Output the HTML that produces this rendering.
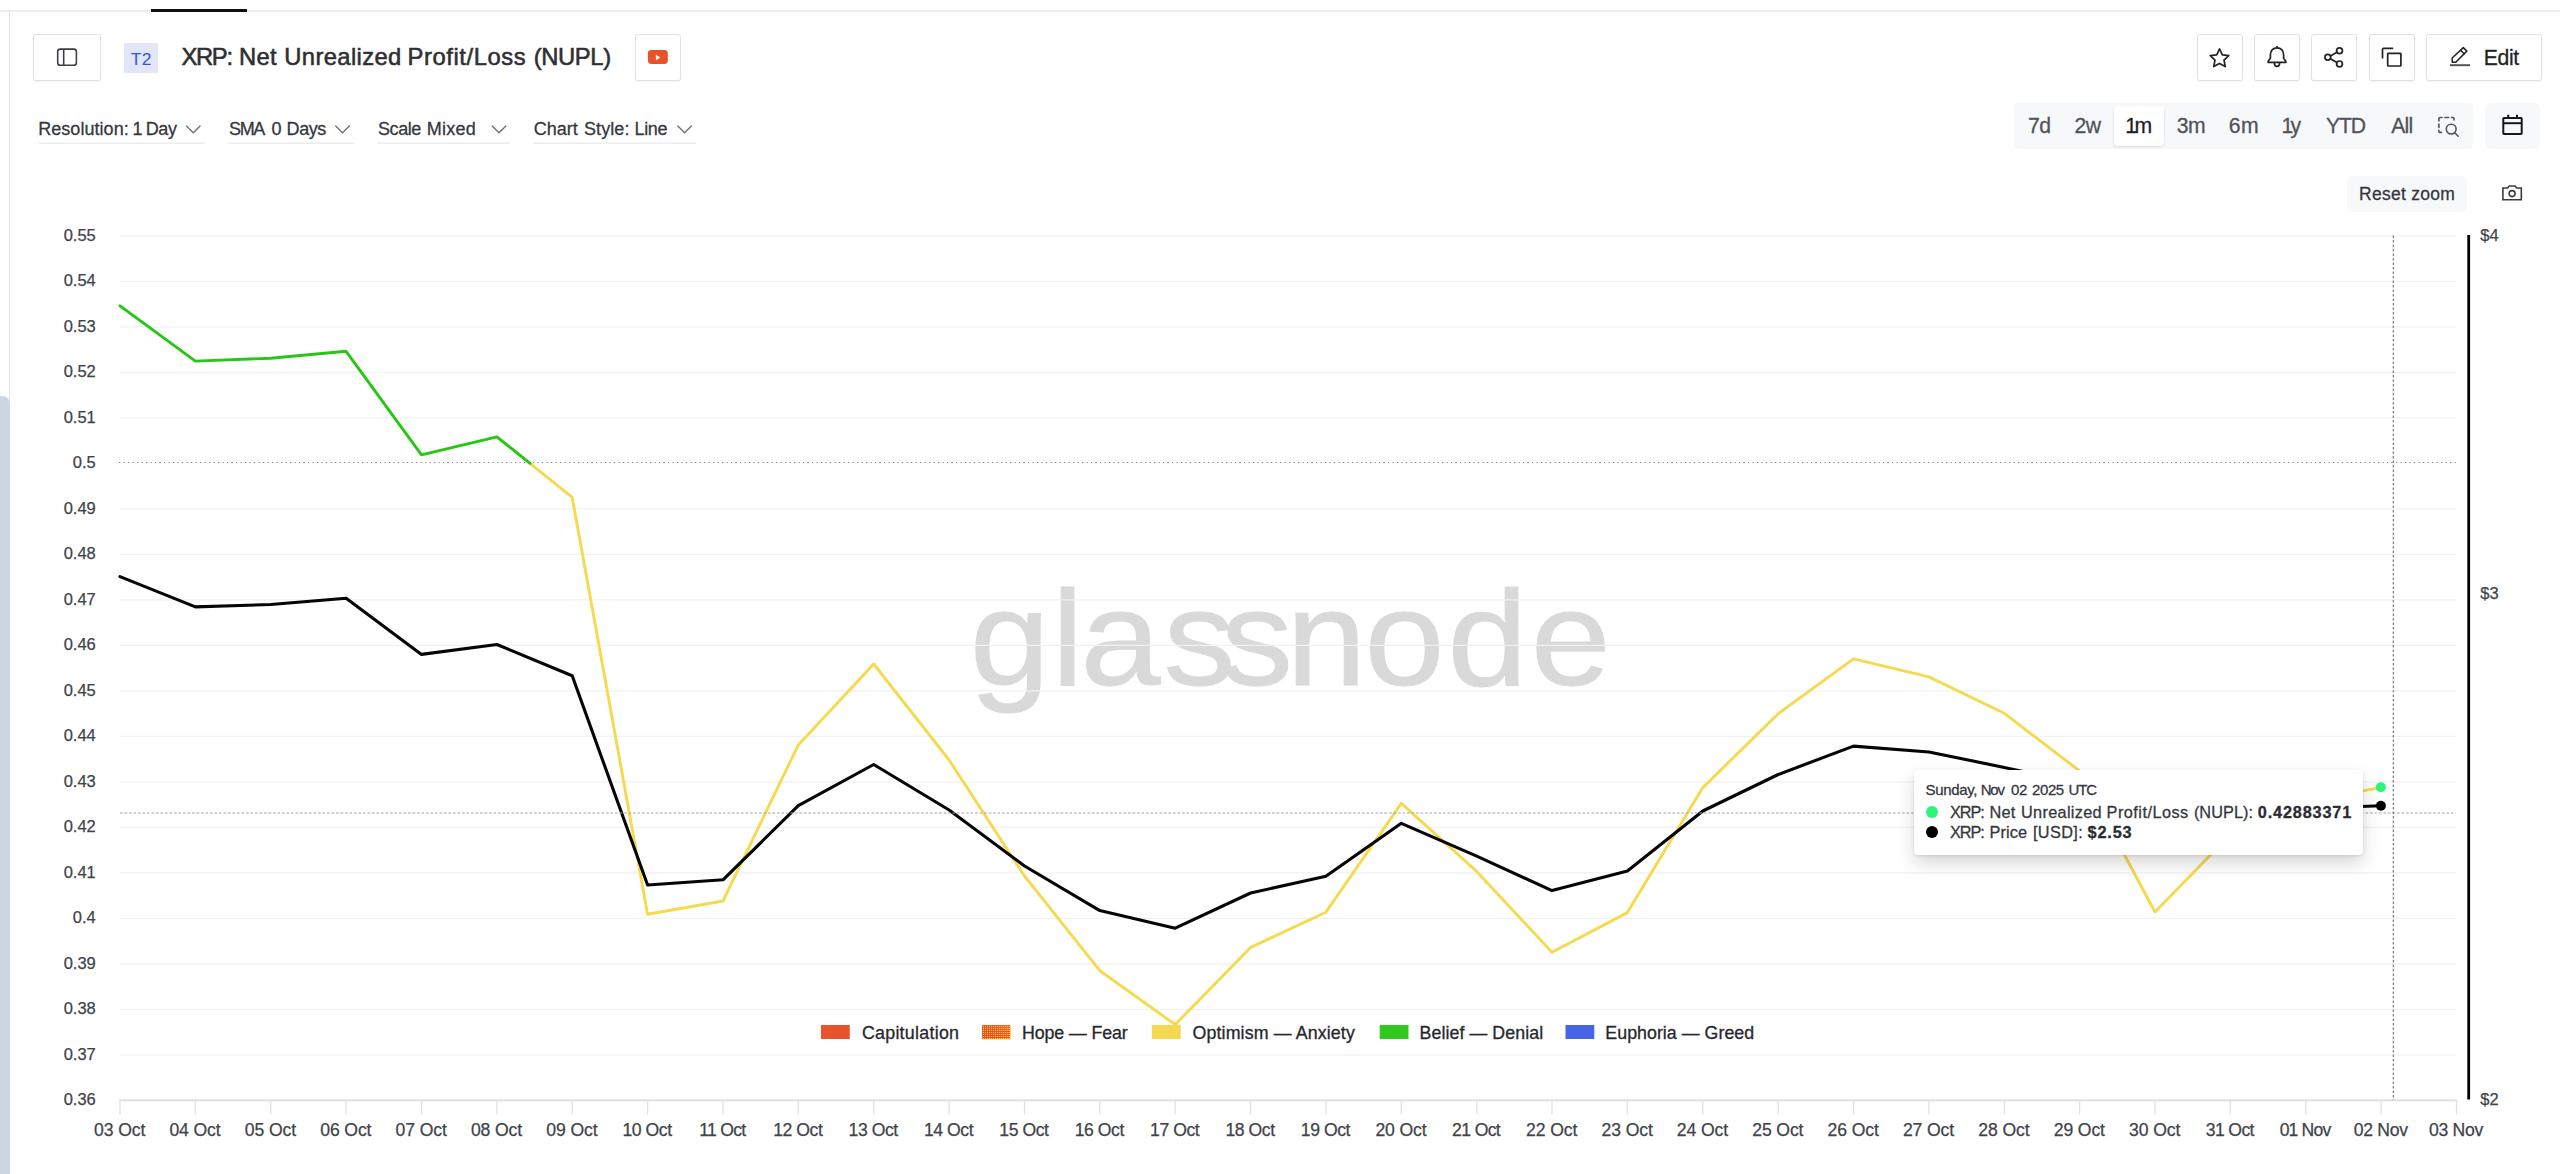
<!DOCTYPE html>
<html lang="en"><head><meta charset="utf-8"><title>XRP: Net Unrealized Profit/Loss (NUPL)</title>
<style>
html,body{margin:0;padding:0;background:#fff}
body{width:2560px;height:1174px;overflow:hidden;position:relative;font-family:"Liberation Sans", sans-serif;-webkit-font-smoothing:antialiased}
.abs{position:absolute}
.t{position:absolute;white-space:nowrap;line-height:1}
.w{position:absolute;top:0}
.btn{position:absolute;box-sizing:border-box;border:1.4px solid #e1e2e3;border-radius:2.8px;background:#fff;box-shadow:0 1px 1.5px rgba(0,0,0,.05)}
.ul{position:absolute;height:0;border-top:1.4px solid #ebebeb;top:142.4px}
.ov{position:absolute;left:0;top:0}
#chart{position:absolute;left:0;top:0}
.seg{position:absolute;background:#f7f8f9}
#tip{position:absolute;left:1913.6px;top:770.2px;width:449.6px;height:85.3px;background:#fff;border-radius:4px;box-shadow:0 1px 3px rgba(0,0,0,.10),0 8px 18px rgba(0,0,0,.16)}
#tipt{position:absolute;left:0;top:0}
.dot{position:absolute;width:12.4px;height:12.4px;border-radius:50%}
</style></head><body>
<div class="abs" style="left:0;top:10px;width:2560px;height:2px;background:#ebecec"></div>
<div class="abs" style="left:151px;top:8.8px;width:96px;height:3px;background:#111"></div>
<div class="abs" style="left:9px;top:11px;width:1.3px;height:390px;background:#e4e5e6"></div>
<div class="abs" style="left:0;top:395.6px;width:9.6px;height:800px;background:#ccd6e0;border-top-right-radius:8px"></div>

<div class="btn" style="left:33.3px;top:34.2px;width:67.6px;height:46.5px"></div>
<div class="abs" style="left:124px;top:43px;width:33.8px;height:30.4px;background:#e1e6fb"></div>
<div class="btn" style="left:634.5px;top:34.2px;width:46.1px;height:46.5px"></div>
<div class="btn" style="left:2196.6px;top:34.2px;width:46.1px;height:46.5px"></div>
<div class="btn" style="left:2254.2px;top:34.2px;width:45.5px;height:46.5px"></div>
<div class="btn" style="left:2311.1px;top:34.2px;width:45.6px;height:46.5px"></div>
<div class="btn" style="left:2369.1px;top:34.2px;width:45.5px;height:46.5px"></div>
<div class="btn" style="left:2426.3px;top:34.2px;width:115.5px;height:46.5px"></div>


<div class="seg" style="left:2014.1px;top:103.1px;width:459.2px;height:45.7px;border-radius:4.5px"></div>
<div class="seg" style="left:2485.2px;top:103.1px;width:54.6px;height:45.7px;border-radius:6px"></div>
<div class="abs" style="left:2114.3px;top:106px;width:49.7px;height:40px;background:#fff;border-radius:4px;box-shadow:0 1px 3px rgba(0,0,0,.12)"></div>
<div class="seg" style="left:2347.4px;top:176.1px;width:119.4px;height:35.7px;border-radius:6px"></div>

<svg id="chart" width="2560" height="1174" viewBox="0 0 2560 1174" font-family='"Liberation Sans", sans-serif'><defs><pattern id="dots" x="982.1" y="1025" width="2.03" height="2.03" patternUnits="userSpaceOnUse"><rect width="2.03" height="2.03" fill="#eb4b24"/><circle cx="1.4" cy="1.4" r="0.7" fill="#fbe650"/></pattern></defs><text transform="scale(1.07,1)" x="906.4 982.7 1009.9 1087.4 1141.2 1202.1 1275.3 1352.7 1430.7" y="684.8" font-size="134.5" fill="#d9d9d9" stroke="#d9d9d9" stroke-width="0.9">glassnode</text><line x1="120.0" x2="2456.5" y1="235.9" y2="235.9" stroke="#f1f1f1" stroke-width="1.25"/><line x1="120.0" x2="2456.5" y1="281.4" y2="281.4" stroke="#f1f1f1" stroke-width="1.25"/><line x1="120.0" x2="2456.5" y1="326.9" y2="326.9" stroke="#f1f1f1" stroke-width="1.25"/><line x1="120.0" x2="2456.5" y1="372.4" y2="372.4" stroke="#f1f1f1" stroke-width="1.25"/><line x1="120.0" x2="2456.5" y1="417.9" y2="417.9" stroke="#f1f1f1" stroke-width="1.25"/><line x1="119" x2="2456.5" y1="462.5" y2="462.5" stroke="#7d818c" stroke-width="1" stroke-dasharray="1.2 3.3"/><line x1="120.0" x2="2456.5" y1="508.9" y2="508.9" stroke="#f1f1f1" stroke-width="1.25"/><line x1="120.0" x2="2456.5" y1="554.4" y2="554.4" stroke="#f1f1f1" stroke-width="1.25"/><line x1="120.0" x2="2456.5" y1="599.9" y2="599.9" stroke="#f1f1f1" stroke-width="1.25"/><line x1="120.0" x2="2456.5" y1="645.4" y2="645.4" stroke="#f1f1f1" stroke-width="1.25"/><line x1="120.0" x2="2456.5" y1="690.9" y2="690.9" stroke="#f1f1f1" stroke-width="1.25"/><line x1="120.0" x2="2456.5" y1="736.4" y2="736.4" stroke="#f1f1f1" stroke-width="1.25"/><line x1="120.0" x2="2456.5" y1="781.9" y2="781.9" stroke="#f1f1f1" stroke-width="1.25"/><line x1="120.0" x2="2456.5" y1="827.4" y2="827.4" stroke="#f1f1f1" stroke-width="1.25"/><line x1="120.0" x2="2456.5" y1="872.9" y2="872.9" stroke="#f1f1f1" stroke-width="1.25"/><line x1="120.0" x2="2456.5" y1="918.4" y2="918.4" stroke="#f1f1f1" stroke-width="1.25"/><line x1="120.0" x2="2456.5" y1="963.9" y2="963.9" stroke="#f1f1f1" stroke-width="1.25"/><line x1="120.0" x2="2456.5" y1="1009.4" y2="1009.4" stroke="#f1f1f1" stroke-width="1.25"/><line x1="120.0" x2="2456.5" y1="1054.9" y2="1054.9" stroke="#f1f1f1" stroke-width="1.25"/><line x1="119.3" x2="2457.2" y1="1100.35" y2="1100.35" stroke="#dcdcdc" stroke-width="1.6"/><line x1="120.0" x2="120.0" y1="1100.35" y2="1114.35" stroke="#e2e2e2" stroke-width="1.3"/><line x1="195.4" x2="195.4" y1="1100.35" y2="1114.35" stroke="#e2e2e2" stroke-width="1.3"/><line x1="270.7" x2="270.7" y1="1100.35" y2="1114.35" stroke="#e2e2e2" stroke-width="1.3"/><line x1="346.1" x2="346.1" y1="1100.35" y2="1114.35" stroke="#e2e2e2" stroke-width="1.3"/><line x1="421.5" x2="421.5" y1="1100.35" y2="1114.35" stroke="#e2e2e2" stroke-width="1.3"/><line x1="496.9" x2="496.9" y1="1100.35" y2="1114.35" stroke="#e2e2e2" stroke-width="1.3"/><line x1="572.2" x2="572.2" y1="1100.35" y2="1114.35" stroke="#e2e2e2" stroke-width="1.3"/><line x1="647.6" x2="647.6" y1="1100.35" y2="1114.35" stroke="#e2e2e2" stroke-width="1.3"/><line x1="723.0" x2="723.0" y1="1100.35" y2="1114.35" stroke="#e2e2e2" stroke-width="1.3"/><line x1="798.3" x2="798.3" y1="1100.35" y2="1114.35" stroke="#e2e2e2" stroke-width="1.3"/><line x1="873.7" x2="873.7" y1="1100.35" y2="1114.35" stroke="#e2e2e2" stroke-width="1.3"/><line x1="949.1" x2="949.1" y1="1100.35" y2="1114.35" stroke="#e2e2e2" stroke-width="1.3"/><line x1="1024.5" x2="1024.5" y1="1100.35" y2="1114.35" stroke="#e2e2e2" stroke-width="1.3"/><line x1="1099.8" x2="1099.8" y1="1100.35" y2="1114.35" stroke="#e2e2e2" stroke-width="1.3"/><line x1="1175.2" x2="1175.2" y1="1100.35" y2="1114.35" stroke="#e2e2e2" stroke-width="1.3"/><line x1="1250.6" x2="1250.6" y1="1100.35" y2="1114.35" stroke="#e2e2e2" stroke-width="1.3"/><line x1="1325.9" x2="1325.9" y1="1100.35" y2="1114.35" stroke="#e2e2e2" stroke-width="1.3"/><line x1="1401.3" x2="1401.3" y1="1100.35" y2="1114.35" stroke="#e2e2e2" stroke-width="1.3"/><line x1="1476.7" x2="1476.7" y1="1100.35" y2="1114.35" stroke="#e2e2e2" stroke-width="1.3"/><line x1="1552.0" x2="1552.0" y1="1100.35" y2="1114.35" stroke="#e2e2e2" stroke-width="1.3"/><line x1="1627.4" x2="1627.4" y1="1100.35" y2="1114.35" stroke="#e2e2e2" stroke-width="1.3"/><line x1="1702.8" x2="1702.8" y1="1100.35" y2="1114.35" stroke="#e2e2e2" stroke-width="1.3"/><line x1="1778.2" x2="1778.2" y1="1100.35" y2="1114.35" stroke="#e2e2e2" stroke-width="1.3"/><line x1="1853.5" x2="1853.5" y1="1100.35" y2="1114.35" stroke="#e2e2e2" stroke-width="1.3"/><line x1="1928.9" x2="1928.9" y1="1100.35" y2="1114.35" stroke="#e2e2e2" stroke-width="1.3"/><line x1="2004.3" x2="2004.3" y1="1100.35" y2="1114.35" stroke="#e2e2e2" stroke-width="1.3"/><line x1="2079.6" x2="2079.6" y1="1100.35" y2="1114.35" stroke="#e2e2e2" stroke-width="1.3"/><line x1="2155.0" x2="2155.0" y1="1100.35" y2="1114.35" stroke="#e2e2e2" stroke-width="1.3"/><line x1="2230.4" x2="2230.4" y1="1100.35" y2="1114.35" stroke="#e2e2e2" stroke-width="1.3"/><line x1="2305.8" x2="2305.8" y1="1100.35" y2="1114.35" stroke="#e2e2e2" stroke-width="1.3"/><line x1="2381.1" x2="2381.1" y1="1100.35" y2="1114.35" stroke="#e2e2e2" stroke-width="1.3"/><line x1="2456.5" x2="2456.5" y1="1100.35" y2="1114.35" stroke="#e2e2e2" stroke-width="1.3"/><line x1="2468.7" x2="2468.7" y1="235" y2="1099.4" stroke="#000" stroke-width="2.8"/><text x="95.8" y="240.8" font-size="16.5" fill="#3f434a" stroke="#3f434a" stroke-width="0.25" text-anchor="end">0.55</text><text x="95.8" y="286.3" font-size="16.5" fill="#3f434a" stroke="#3f434a" stroke-width="0.25" text-anchor="end">0.54</text><text x="95.8" y="331.8" font-size="16.5" fill="#3f434a" stroke="#3f434a" stroke-width="0.25" text-anchor="end">0.53</text><text x="95.8" y="377.3" font-size="16.5" fill="#3f434a" stroke="#3f434a" stroke-width="0.25" text-anchor="end">0.52</text><text x="95.8" y="422.8" font-size="16.5" fill="#3f434a" stroke="#3f434a" stroke-width="0.25" text-anchor="end">0.51</text><text x="95.8" y="468.3" font-size="16.5" fill="#3f434a" stroke="#3f434a" stroke-width="0.25" text-anchor="end">0.5</text><text x="95.8" y="513.8" font-size="16.5" fill="#3f434a" stroke="#3f434a" stroke-width="0.25" text-anchor="end">0.49</text><text x="95.8" y="559.3" font-size="16.5" fill="#3f434a" stroke="#3f434a" stroke-width="0.25" text-anchor="end">0.48</text><text x="95.8" y="604.8" font-size="16.5" fill="#3f434a" stroke="#3f434a" stroke-width="0.25" text-anchor="end">0.47</text><text x="95.8" y="650.3" font-size="16.5" fill="#3f434a" stroke="#3f434a" stroke-width="0.25" text-anchor="end">0.46</text><text x="95.8" y="695.8" font-size="16.5" fill="#3f434a" stroke="#3f434a" stroke-width="0.25" text-anchor="end">0.45</text><text x="95.8" y="741.3" font-size="16.5" fill="#3f434a" stroke="#3f434a" stroke-width="0.25" text-anchor="end">0.44</text><text x="95.8" y="786.8" font-size="16.5" fill="#3f434a" stroke="#3f434a" stroke-width="0.25" text-anchor="end">0.43</text><text x="95.8" y="832.3" font-size="16.5" fill="#3f434a" stroke="#3f434a" stroke-width="0.25" text-anchor="end">0.42</text><text x="95.8" y="877.8" font-size="16.5" fill="#3f434a" stroke="#3f434a" stroke-width="0.25" text-anchor="end">0.41</text><text x="95.8" y="923.3" font-size="16.5" fill="#3f434a" stroke="#3f434a" stroke-width="0.25" text-anchor="end">0.4</text><text x="95.8" y="968.8" font-size="16.5" fill="#3f434a" stroke="#3f434a" stroke-width="0.25" text-anchor="end">0.39</text><text x="95.8" y="1014.3" font-size="16.5" fill="#3f434a" stroke="#3f434a" stroke-width="0.25" text-anchor="end">0.38</text><text x="95.8" y="1059.8" font-size="16.5" fill="#3f434a" stroke="#3f434a" stroke-width="0.25" text-anchor="end">0.37</text><text x="95.8" y="1105.2" font-size="16.5" fill="#3f434a" stroke="#3f434a" stroke-width="0.25" text-anchor="end">0.36</text><text x="119.6" y="1135.6" font-size="17.6" fill="#3f434a" stroke="#3f434a" stroke-width="0.25" text-anchor="middle" letter-spacing="-0.11">03 Oct</text><text x="195.0" y="1135.6" font-size="17.6" fill="#3f434a" stroke="#3f434a" stroke-width="0.25" text-anchor="middle" letter-spacing="-0.11">04 Oct</text><text x="270.4" y="1135.6" font-size="17.6" fill="#3f434a" stroke="#3f434a" stroke-width="0.25" text-anchor="middle" letter-spacing="-0.11">05 Oct</text><text x="345.8" y="1135.6" font-size="17.6" fill="#3f434a" stroke="#3f434a" stroke-width="0.25" text-anchor="middle" letter-spacing="-0.11">06 Oct</text><text x="421.1" y="1135.6" font-size="17.6" fill="#3f434a" stroke="#3f434a" stroke-width="0.25" text-anchor="middle" letter-spacing="-0.11">07 Oct</text><text x="496.5" y="1135.6" font-size="17.6" fill="#3f434a" stroke="#3f434a" stroke-width="0.25" text-anchor="middle" letter-spacing="-0.11">08 Oct</text><text x="571.9" y="1135.6" font-size="17.6" fill="#3f434a" stroke="#3f434a" stroke-width="0.25" text-anchor="middle" letter-spacing="-0.11">09 Oct</text><text x="647.1" y="1135.6" font-size="17.6" fill="#3f434a" stroke="#3f434a" stroke-width="0.25" text-anchor="middle" letter-spacing="-0.44">10 Oct</text><text x="722.3" y="1135.6" font-size="17.6" fill="#3f434a" stroke="#3f434a" stroke-width="0.25" text-anchor="middle" letter-spacing="-0.71">11 Oct</text><text x="797.8" y="1135.6" font-size="17.6" fill="#3f434a" stroke="#3f434a" stroke-width="0.25" text-anchor="middle" letter-spacing="-0.44">12 Oct</text><text x="873.2" y="1135.6" font-size="17.6" fill="#3f434a" stroke="#3f434a" stroke-width="0.25" text-anchor="middle" letter-spacing="-0.44">13 Oct</text><text x="948.6" y="1135.6" font-size="17.6" fill="#3f434a" stroke="#3f434a" stroke-width="0.25" text-anchor="middle" letter-spacing="-0.44">14 Oct</text><text x="1023.9" y="1135.6" font-size="17.6" fill="#3f434a" stroke="#3f434a" stroke-width="0.25" text-anchor="middle" letter-spacing="-0.44">15 Oct</text><text x="1099.3" y="1135.6" font-size="17.6" fill="#3f434a" stroke="#3f434a" stroke-width="0.25" text-anchor="middle" letter-spacing="-0.44">16 Oct</text><text x="1174.7" y="1135.6" font-size="17.6" fill="#3f434a" stroke="#3f434a" stroke-width="0.25" text-anchor="middle" letter-spacing="-0.44">17 Oct</text><text x="1250.0" y="1135.6" font-size="17.6" fill="#3f434a" stroke="#3f434a" stroke-width="0.25" text-anchor="middle" letter-spacing="-0.44">18 Oct</text><text x="1325.4" y="1135.6" font-size="17.6" fill="#3f434a" stroke="#3f434a" stroke-width="0.25" text-anchor="middle" letter-spacing="-0.44">19 Oct</text><text x="1401.0" y="1135.6" font-size="17.6" fill="#3f434a" stroke="#3f434a" stroke-width="0.25" text-anchor="middle" letter-spacing="-0.11">20 Oct</text><text x="1476.1" y="1135.6" font-size="17.6" fill="#3f434a" stroke="#3f434a" stroke-width="0.25" text-anchor="middle" letter-spacing="-0.64">21 Oct</text><text x="1551.7" y="1135.6" font-size="17.6" fill="#3f434a" stroke="#3f434a" stroke-width="0.25" text-anchor="middle" letter-spacing="-0.11">22 Oct</text><text x="1627.1" y="1135.6" font-size="17.6" fill="#3f434a" stroke="#3f434a" stroke-width="0.25" text-anchor="middle" letter-spacing="-0.11">23 Oct</text><text x="1702.4" y="1135.6" font-size="17.6" fill="#3f434a" stroke="#3f434a" stroke-width="0.25" text-anchor="middle" letter-spacing="-0.11">24 Oct</text><text x="1777.8" y="1135.6" font-size="17.6" fill="#3f434a" stroke="#3f434a" stroke-width="0.25" text-anchor="middle" letter-spacing="-0.11">25 Oct</text><text x="1853.2" y="1135.6" font-size="17.6" fill="#3f434a" stroke="#3f434a" stroke-width="0.25" text-anchor="middle" letter-spacing="-0.11">26 Oct</text><text x="1928.5" y="1135.6" font-size="17.6" fill="#3f434a" stroke="#3f434a" stroke-width="0.25" text-anchor="middle" letter-spacing="-0.11">27 Oct</text><text x="2003.9" y="1135.6" font-size="17.6" fill="#3f434a" stroke="#3f434a" stroke-width="0.25" text-anchor="middle" letter-spacing="-0.11">28 Oct</text><text x="2079.3" y="1135.6" font-size="17.6" fill="#3f434a" stroke="#3f434a" stroke-width="0.25" text-anchor="middle" letter-spacing="-0.11">29 Oct</text><text x="2154.7" y="1135.6" font-size="17.6" fill="#3f434a" stroke="#3f434a" stroke-width="0.25" text-anchor="middle" letter-spacing="-0.11">30 Oct</text><text x="2229.8" y="1135.6" font-size="17.6" fill="#3f434a" stroke="#3f434a" stroke-width="0.25" text-anchor="middle" letter-spacing="-0.64">31 Oct</text><text x="2305.0" y="1135.6" font-size="17.6" fill="#3f434a" stroke="#3f434a" stroke-width="0.25" text-anchor="middle" letter-spacing="-0.84">01 Nov</text><text x="2380.7" y="1135.6" font-size="17.6" fill="#3f434a" stroke="#3f434a" stroke-width="0.25" text-anchor="middle" letter-spacing="-0.31">02 Nov</text><text x="2456.0" y="1135.6" font-size="17.6" fill="#3f434a" stroke="#3f434a" stroke-width="0.25" text-anchor="middle" letter-spacing="-0.31">03 Nov</text><text x="2480.3" y="240.5" font-size="16.5" fill="#3f434a" stroke="#3f434a" stroke-width="0.25">$4</text><text x="2480.3" y="599.2" font-size="16.5" fill="#3f434a" stroke="#3f434a" stroke-width="0.25">$3</text><text x="2480.3" y="1104.7" font-size="16.5" fill="#3f434a" stroke="#3f434a" stroke-width="0.25">$2</text><polyline points="530.0,463.4 572.2,497.3 647.6,914.2 723.0,901.0 798.3,744.9 873.7,664.0 949.1,760.0 1024.5,876.0 1099.8,970.7 1175.2,1024.5 1250.6,947.4 1325.9,912.2 1401.3,803.3 1476.7,871.4 1552.0,952.3 1627.4,912.6 1702.8,787.6 1778.2,713.7 1853.5,658.8 1928.9,676.9 2004.3,713.3 2079.6,771.0 2155.0,912.0 2230.4,834.4 2305.8,801.7 2381.1,787.4" fill="none" stroke="#f5d94e" stroke-width="2.9" stroke-linejoin="round" stroke-linecap="round"/><polyline points="120.0,305.9 195.4,361.1 270.7,358.2 346.1,351.3 421.5,454.8 496.9,436.8 530.0,463.4" fill="none" stroke="#26c714" stroke-width="2.9" stroke-linejoin="round" stroke-linecap="round"/><polyline points="120.0,576.6 195.4,606.9 270.7,604.5 346.1,598.3 421.5,654.4 496.9,644.5 572.2,675.8 647.6,885.0 723.0,879.8 798.3,805.7 873.7,764.5 949.1,810.0 1024.5,866.0 1099.8,910.6 1175.2,928.2 1250.6,893.0 1325.9,876.2 1401.3,823.3 1476.7,856.2 1552.0,890.6 1627.4,871.0 1702.8,811.0 1778.2,774.5 1853.5,746.1 1928.9,752.0 2004.3,767.4 2079.6,784.0 2155.0,796.0 2230.4,808.0 2305.8,808.5 2381.1,805.7" fill="none" stroke="#050505" stroke-width="3.1" stroke-linejoin="round" stroke-linecap="round"/><rect x="982.5" y="1025.6" width="28.4" height="14" fill="#f6e04c"/><rect x="821" y="1025" width="28.8" height="14" fill="#e9532b"/><rect x="982.1" y="1025" width="28.0" height="14" fill="url(#dots)"/><rect x="1151.9" y="1025" width="28.8" height="14" fill="#f4d84f"/><rect x="1379.7" y="1025" width="28.8" height="14" fill="#31c920"/><rect x="1565.5" y="1025" width="28.8" height="14" fill="#4664e6"/><text x="861.9" y="1039.4" font-size="17.8" fill="#26282c" stroke="#26282c" stroke-width="0.3" letter-spacing="0.29">Capitulation</text><text x="1021.9" y="1039.4" font-size="17.8" fill="#26282c" stroke="#26282c" stroke-width="0.3" letter-spacing="-0.09">Hope — Fear</text><text x="1192.5" y="1039.4" font-size="17.8" fill="#26282c" stroke="#26282c" stroke-width="0.3" letter-spacing="0.13">Optimism — Anxiety</text><text x="1419.5" y="1039.4" font-size="17.8" fill="#26282c" stroke="#26282c" stroke-width="0.3" letter-spacing="0.08">Belief — Denial</text><text x="1605.3" y="1039.4" font-size="17.8" fill="#26282c" stroke="#26282c" stroke-width="0.3" letter-spacing="0.04">Euphoria — Greed</text><line x1="120.0" x2="2456" y1="812.9" y2="812.9" stroke="#9ea5af" stroke-width="1.05" stroke-dasharray="2.7 1.8"/><line x1="2393.3" x2="2393.3" y1="235.4" y2="1100" stroke="#6a6f7a" stroke-width="1.1" stroke-dasharray="2.7 1.8"/><circle cx="2380.9" cy="787.2" r="5" fill="#2cf57a"/><circle cx="2380.9" cy="805.7" r="5" fill="#000"/></svg>

<svg class="ov" width="2560" height="230" viewBox="0 0 2560 230" fill="none" stroke="#393c43" stroke-width="1.7" stroke-linecap="round" stroke-linejoin="round">
<!-- sidebar icon -->
<rect x="57.7" y="49.1" width="18.7" height="16.2" rx="2.6" stroke-width="1.55"/>
<line x1="63.7" y1="49.1" x2="63.7" y2="65.3" stroke-linecap="butt" stroke-width="1.55"/>
<!-- youtube -->
<rect x="647.9" y="50" width="19.9" height="14" rx="3.4" fill="#e8532a" stroke="none"/>
<path d="M655.9 54.7 L660.4 57.5 L655.9 60.3 Z" fill="#fff" stroke="none"/>
<!-- chevrons -->
<g stroke="#6b7078" stroke-width="1.35">
<path d="M186.5 126 L193.3 132.8 L200.1 126"/>
<path d="M335.7 126 L342.5 132.8 L349.3 126"/>
<path d="M492.2 126 L499 132.8 L505.8 126"/>
<path d="M677.8 126 L684.6 132.8 L691.4 126"/>
</g>
<g stroke="#e8e8e8" stroke-width="1.3" stroke-linecap="butt">
<path d="M38.6 143.2 H204.6"/><path d="M228.4 143.2 H354.2"/><path d="M377.2 143.2 H509.8"/><path d="M533.2 143.2 H696"/>
</g>
<!-- star -->
<path d="M2219.5 48.9 L2222.3 54.9 L2228.8 55.7 L2224 60.2 L2225.3 66.6 L2219.5 63.4 L2213.7 66.6 L2215 60.2 L2210.2 55.7 L2216.7 54.9 Z" stroke="#222326"/>
<!-- bell -->
<g stroke="#222326">
<path d="M2268.2 62.4 H2285.8 V61.2 L2283.6 58.2 V54.6 C2283.6 50.6 2280.8 47.8 2277 47.8 C2273.2 47.8 2270.4 50.6 2270.4 54.6 V58.2 L2268.2 61.2 Z"/>
<path d="M2274.4 63 C2274.4 65.4 2275.5 66.4 2277 66.4 C2278.5 66.4 2279.6 65.4 2279.6 63"/>
<path d="M2277 46.6 V47.6"/>
</g>
<!-- share -->
<g stroke="#222326">
<circle cx="2339.5" cy="50.8" r="2.9"/><circle cx="2327.8" cy="57.3" r="2.9"/><circle cx="2339.5" cy="63.9" r="2.9"/>
<path d="M2330.4 55.9 L2336.9 52.2 M2330.4 58.7 L2336.9 62.5"/>
</g>
<!-- copy -->
<g stroke="#222326" stroke-linecap="butt" stroke-linejoin="miter">
<rect x="2387.7" y="53.4" width="13.2" height="12.6" rx="0.6"/>
<path d="M2382.5 58.4 V49.2 Q2382.5 48.3 2383.4 48.3 H2393.2"/>
</g>
<!-- pencil -->
<g stroke="#222326" stroke-width="1.5">
<path d="M2452.2 62.2 V58 L2463.3 47.6 L2466.8 51.1 L2455.8 62.2 Z"/>
<path d="M2460.6 50.2 L2464.1 53.8"/>
<path d="M2450 65.2 H2470" stroke="#4a4d52" stroke-width="1.9" stroke-linecap="butt"/>
</g>
<!-- zoom-select -->
<g stroke="#50545c" stroke-width="1.6">
<path d="M2438.9 121 V118.5 Q2438.9 117.5 2439.9 117.5 H2442" />
<path d="M2445 117.5 H2448.6"/>
<path d="M2451.6 117.5 H2453 Q2454 117.5 2454 118.5 V120"/>
<path d="M2438.9 124 V127.4"/>
<path d="M2438.9 130.4 V131.4 Q2438.9 132.4 2439.9 132.4 H2441.4"/>
<circle cx="2451.2" cy="129.1" r="4.9"/>
<path d="M2454.8 132.8 L2458.2 136.2"/>
</g>
<!-- calendar -->
<g stroke="#17181a" stroke-width="2" stroke-linecap="butt" stroke-linejoin="miter">
<rect x="2503.3" y="118.1" width="18.4" height="15.8" rx="0.6"/>
<path d="M2503.3 123.2 H2521.7"/>
<path d="M2508.2 114.8 V119 M2517 114.8 V119"/>
</g>
<!-- camera -->
<g stroke="#393c43" stroke-width="1.6" stroke-linejoin="miter">
<path d="M2502.9 188 H2507.6 L2509.2 186 H2515.1 L2516.7 188 H2521.3 V199.8 H2502.9 Z"/>
<circle cx="2512.1" cy="193.6" r="3"/>
</g>
</svg>
<span class="t" style="left:130.80px;top:50.57px;font-size:17.4px;letter-spacing:0.277px;color:#3457e0;font-weight:400;-webkit-text-stroke:0.05px #3457e0">T2</span><span class="t" style="left:2483.80px;top:47.25px;font-size:21.2px;letter-spacing:-0.374px;color:#222326;font-weight:400;-webkit-text-stroke:0.28px #222326">Edit</span><span class="t" style="left:2028.10px;top:115.15px;font-size:21.2px;letter-spacing:-0.583px;color:#505359;font-weight:400;-webkit-text-stroke:0.28px #505359">7d</span><span class="t" style="left:2074.50px;top:115.15px;font-size:21.2px;letter-spacing:-0.583px;color:#505359;font-weight:400;-webkit-text-stroke:0.28px #505359">2w</span><span class="t" style="left:2125.20px;top:115.15px;font-size:21.2px;letter-spacing:-2.383px;color:#1c1d20;font-weight:400;-webkit-text-stroke:0.28px #1c1d20">1m</span><span class="t" style="left:2176.80px;top:115.15px;font-size:21.2px;letter-spacing:-0.583px;color:#505359;font-weight:400;-webkit-text-stroke:0.28px #505359">3m</span><span class="t" style="left:2228.70px;top:115.15px;font-size:21.2px;letter-spacing:0.617px;color:#505359;font-weight:400;-webkit-text-stroke:0.28px #505359">6m</span><span class="t" style="left:2281.60px;top:115.15px;font-size:21.2px;letter-spacing:-2.883px;color:#505359;font-weight:400;-webkit-text-stroke:0.28px #505359">1y</span><span class="t" style="left:2326.00px;top:115.15px;font-size:21.2px;letter-spacing:-1.137px;color:#505359;font-weight:400;-webkit-text-stroke:0.28px #505359">YTD</span><span class="t" style="left:2391.20px;top:115.15px;font-size:21.2px;letter-spacing:-0.820px;color:#505359;font-weight:400;-webkit-text-stroke:0.28px #505359">All</span><span class="t" style="left:2359.10px;top:185.79px;font-size:17.5px;letter-spacing:0.267px;color:#34373d;font-weight:400;-webkit-text-stroke:0.28px #34373d">Reset zoom</span><div class="t" style="left:0;top:45.35px;font-size:23.8px;color:#2e2f32;font-weight:400;-webkit-text-stroke:0.55px #2e2f32"><span class="w" style="left:181.50px;letter-spacing:-1.343px">XRP:</span> <span class="w" style="left:238.90px;letter-spacing:0.340px">Net</span> <span class="w" style="left:284.30px;letter-spacing:0.364px">Unrealized</span> <span class="w" style="left:407.50px;letter-spacing:0.568px">Profit/Loss</span> <span class="w" style="left:533.70px;letter-spacing:-0.380px">(NUPL)</span></div><div class="t" style="left:0;top:120.36px;font-size:18.0px;color:#34373d;font-weight:400;-webkit-text-stroke:0.28px #34373d"><span class="w" style="left:38.20px;letter-spacing:0.045px">Resolution:</span> <span class="w" style="left:132.50px;letter-spacing:-3.500px">1</span> <span class="w" style="left:145.80px;letter-spacing:-0.455px">Day</span></div><div class="t" style="left:0;top:120.36px;font-size:18.0px;color:#34373d;font-weight:400;-webkit-text-stroke:0.28px #34373d"><span class="w" style="left:229.00px;letter-spacing:-1.350px">SMA</span> <span class="w" style="left:271.60px;letter-spacing:-0.700px">0</span> <span class="w" style="left:286.60px;letter-spacing:-0.437px">Days</span></div><div class="t" style="left:0;top:120.36px;font-size:18.0px;color:#34373d;font-weight:400;-webkit-text-stroke:0.28px #34373d"><span class="w" style="left:378.00px;letter-spacing:-0.429px">Scale</span> <span class="w" style="left:426.70px;letter-spacing:0.249px">Mixed</span></div><div class="t" style="left:0;top:120.36px;font-size:18.0px;color:#34373d;font-weight:400;-webkit-text-stroke:0.28px #34373d"><span class="w" style="left:533.70px;letter-spacing:0.021px">Chart</span> <span class="w" style="left:584.00px;letter-spacing:0.077px">Style:</span> <span class="w" style="left:634.50px;letter-spacing:-0.340px">Line</span></div>
<div id="tip"></div>
<div class="dot" style="left:1926.1px;top:805.6px;background:#2cf57a"></div>
<div class="dot" style="left:1926.1px;top:826.1px;background:#000"></div>
<div class="t" style="left:0;top:781.90px;font-size:15.0px;color:#34373d;font-weight:400;-webkit-text-stroke:0.28px #34373d"><span class="w" style="left:1925.60px;letter-spacing:-0.360px">Sunday,</span> <span class="w" style="left:1980.80px;letter-spacing:-1.287px">Nov</span> <span class="w" style="left:2010.90px;letter-spacing:-0.142px">02</span> <span class="w" style="left:2032.10px;letter-spacing:-0.442px">2025</span> <span class="w" style="left:2068.60px;letter-spacing:-1.198px">UTC</span></div><div class="t" style="left:0;top:804.40px;font-size:16.3px;color:#34373d;font-weight:400;-webkit-text-stroke:0.28px #34373d"><span class="w" style="left:1950.10px;letter-spacing:-1.126px">XRP:</span> <span class="w" style="left:1989.50px;letter-spacing:0.194px">Net</span> <span class="w" style="left:2021.00px;letter-spacing:0.314px">Unrealized</span> <span class="w" style="left:2106.60px;letter-spacing:0.473px">Profit/Loss</span> <span class="w" style="left:2193.90px;letter-spacing:0.054px">(NUPL):</span> <span class="w" style="left:2257.80px;letter-spacing:0.826px;font-weight:700;color:#2a2c31;-webkit-text-stroke-color:#2a2c31">0.42883371</span></div><div class="t" style="left:0;top:824.40px;font-size:16.3px;color:#34373d;font-weight:400;-webkit-text-stroke:0.28px #34373d"><span class="w" style="left:1950.10px;letter-spacing:-1.126px">XRP:</span> <span class="w" style="left:1989.50px;letter-spacing:0.090px">Price</span> <span class="w" style="left:2032.90px;letter-spacing:0.376px">[USD]:</span> <span class="w" style="left:2087.60px;letter-spacing:0.828px;font-weight:700;color:#2a2c31;-webkit-text-stroke-color:#2a2c31">$2.53</span></div>
</body></html>
